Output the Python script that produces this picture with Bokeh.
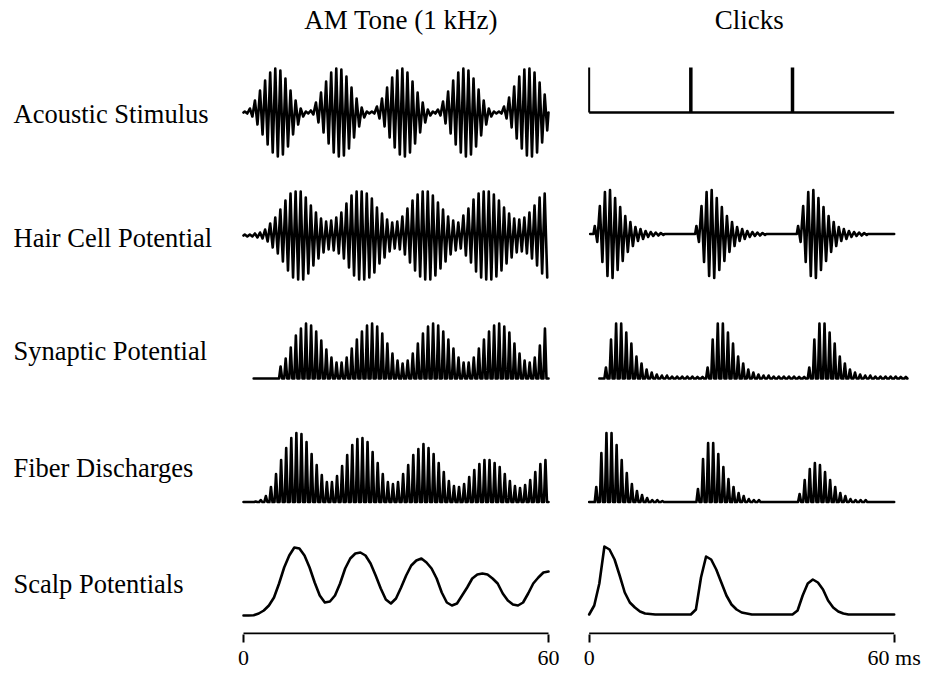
from bokeh.plotting import figure
from bokeh.models import Range1d, LinearAxis, FixedTicker
from bokeh.embed import file_html
from bokeh.resources import INLINE
from bokeh.core.properties import value

# ---------------- data (time in ms, amplitude in a.u.) ----------------
COLUMN_TITLES = ["AM Tone (1 kHz)", "Clicks"]
ROW_LABELS = ["Acoustic Stimulus", "Hair Cell Potential", "Synaptic Potential",
              "Fiber Discharges", "Scalp Potentials"]
AXIS_MS = [0, 60]
AXIS_LABELS = ["0", "60", "0", "60 ms"]

# AM tone: peak amplitude of each 1-ms carrier cycle (cycles 0..59)
AM_STIM = [1, 4, 12, 22, 32, 40, 44, 42, 34, 22, 12, 4, 1,
           2, 10, 20, 31, 40, 44, 43, 36, 25, 14, 5, 1,
           1, 6, 14, 25, 35, 42, 44, 40, 31, 20, 10, 3, 1,
           3, 11, 21, 32, 40, 44, 42, 34, 23, 12, 4, 1,
           1, 6, 15, 26, 36, 43, 44, 40, 30, 18]
AM_HAIR = [1, 1, 2, 3,
           6, 12, 18, 26, 35, 42, 44, 44, 38, 30,
           23, 17, 14, 15, 18, 23, 32, 40, 44, 44,
           42, 37, 28, 22, 16, 13, 14, 19, 27, 35,
           41, 44, 44, 40, 33, 26, 19, 15, 13, 20,
           27, 36, 42, 44, 44, 41, 35, 28, 22, 17,
           16, 18, 23, 30, 38, 42]
AM_SYN_FIRST_CYCLE = 7
AM_SYN = [12, 20, 31, 43, 50, 55, 53, 47, 38, 29,
          21, 16, 16, 21, 30, 39, 47, 53, 55, 52,
          45, 35, 25, 18, 15, 18, 25, 35, 45, 52,
          55, 53, 47, 39, 30, 21, 16, 16, 21, 30,
          39, 47, 53, 55, 52, 46, 35, 25, 18, 16,
          21, 33, 50]
AM_FIBER = [0, 0, 0.5,
            2, 6, 15, 28, 42, 54, 64, 69, 68, 60,
            48, 37, 27, 20, 20, 26, 36, 47, 57, 63,
            64, 60, 50, 39, 28, 20, 18, 20, 28, 37,
            47, 53, 58, 54, 48, 39, 30, 21, 16, 15,
            18, 25, 32, 38, 42, 42, 39, 35, 28, 21,
            16, 14, 17, 22, 30, 38, 42]
AM_SCALP = [0, 0, 0.3, 2, 5, 10, 18, 32, 48, 60, 68,
            67, 60, 48, 33, 20, 13, 14, 20, 32, 47,
            57, 62, 63, 60, 52, 40, 27, 16, 12, 17,
            28, 40, 50, 55, 57, 53, 47, 37, 23, 13,
            10, 12, 20, 28, 37, 41, 42, 41, 37, 32,
            22, 15, 11, 10, 13, 22, 32, 38, 43, 44]

# Clicks
CLICK_TIMES = [0, 20, 40]
CLICK_HEIGHT = 45
HAIR_LATENCY = 1.1
HAIR_BURST = [8, 28, 42, 44, 36, 27, 18, 12, 7, 5, 3, 2, 1.5, 1]
SYN_LATENCY = 3.3
SYN_BURST = [11, 39, 55, 55, 46, 35, 22, 15, 9, 6, 4, 3, 3, 2, 2, 2, 2, 2, 1.5, 1.5]
FIBER_LATENCY = 1.4
FIBER_BURST_1 = [15, 49, 69, 69, 57, 42, 29, 18, 11, 7, 4, 2, 2, 1]
FIBER_BURST_2 = [13, 43, 59, 59, 48, 35, 23, 15, 9, 6, 3, 2, 2]
FIBER_BURST_3 = [8, 22, 33, 39, 37, 30, 22, 15, 9, 6, 3, 2, 2, 2]
CLICK_SCALP = [0, 9, 31, 68, 65, 55, 39, 22, 12, 7, 3,
               1, 0.5, 0, 0, 0, 0, 0, 0, 0, 0,
               5, 37, 58, 55, 45, 32, 19, 10, 5, 2,
               1, 0, 0, 0, 0, 0, 0, 0, 0, 0,
               4, 19, 31, 35, 32, 25, 14, 7, 3, 1,
               0, 0, 0, 0, 0, 0, 0, 0, 0, 0]

# ---------------- layout (styles / positions) ----------------
W, H = 929, 681
PX_PER_MS = 305 / 60.0
ZERO_PX = 243
CLICK_X0 = 68            # x offset (ms units) of the clicks column
X_START = -ZERO_PX / PX_PER_MS
X_END = (W - ZERO_PX) / PX_PER_MS
BOTTOM = 47


def y_of(px):            # vertical placement helper (pixel row -> data units)
    return 633 - px


BASE_STIM = y_of(112)
BASE_HAIR_AM = y_of(235)
BASE_HAIR_CL = y_of(233.5)
BASE_SYN = y_of(378)
BASE_FIBER = y_of(501.5)
BASE_SCALP_AM = y_of(615)
BASE_SCALP_CL = y_of(614)

FONT = value("Liberation Serif")
LW = 2.6

p = figure(width=W, height=H, x_range=Range1d(X_START, X_END), y_range=Range1d(-1, 633),
           x_axis_type=None, y_axis_type=None, toolbar_location=None,
           output_backend="svg", min_border_left=0, min_border_right=0,
           min_border_top=0, min_border_bottom=BOTTOM, outline_line_color=None,
           background_fill_color="white", border_fill_color="white")
p.title_location = None


def symmetric_wave(start, end, bursts, base):
    xs, ys = [start], [base]
    for burst in bursts:
        xs.append(burst[0][0] - 0.25)
        ys.append(base)
        for tp, a in burst:
            xs += [tp, tp + 0.5]
            ys += [base + a, base - a]
        xs.append(burst[-1][0] + 0.75)
        ys.append(base)
    xs.append(end)
    ys.append(base)
    return xs, ys


def pulse_wave(start, end, bursts, base, half=0.3):
    xs, ys = [start], [base]
    for burst in bursts:
        for tp, a in burst:
            xs += [tp - half, tp, tp + half]
            ys += [base, base + a, base]
    xs.append(end)
    ys.append(base)
    return xs, ys


def line(xs, ys, w=LW):
    p.line(xs, ys, line_color="black", line_width=w, line_join="round", line_cap="round")


# ---- AM column ----
xs, ys = symmetric_wave(0, 60, [[(k + 0.25, a) for k, a in enumerate(AM_STIM)]], BASE_STIM)
line(xs, ys)
xs, ys = symmetric_wave(0, 60, [[(k + 0.25, a) for k, a in enumerate(AM_HAIR)]], BASE_HAIR_AM)
xs, ys = xs[:-2], ys[:-2]
line(xs, ys)
xs, ys = pulse_wave(2, 60, [[(AM_SYN_FIRST_CYCLE + k + 0.3, a) for k, a in enumerate(AM_SYN)]], BASE_SYN)
line(xs, ys)
xs, ys = pulse_wave(0, 60, [[(k + 0.4, a) for k, a in enumerate(AM_FIBER)]], BASE_FIBER)
line(xs, ys)
line(list(range(len(AM_SCALP))), [BASE_SCALP_AM + v for v in AM_SCALP])

# ---- Clicks column ----
p.line([CLICK_X0, CLICK_X0 + 60], [BASE_STIM, BASE_STIM], line_color="black", line_width=LW)
p.segment(x0=[CLICK_X0 + c for c in CLICK_TIMES], x1=[CLICK_X0 + c for c in CLICK_TIMES],
          y0=[BASE_STIM] * len(CLICK_TIMES), y1=[BASE_STIM + CLICK_HEIGHT] * len(CLICK_TIMES),
          line_color="black", line_width=[2, 3.5, 3.5])

bursts = [[(CLICK_X0 + c + HAIR_LATENCY + k, a) for k, a in enumerate(HAIR_BURST)] for c in CLICK_TIMES]
xs, ys = symmetric_wave(CLICK_X0 + 0.2, CLICK_X0 + 60, bursts, BASE_HAIR_CL)
line(xs, ys)

bursts = [[(CLICK_X0 + c + SYN_LATENCY + k, a) for k, a in enumerate(SYN_BURST)] for c in CLICK_TIMES]
xs, ys = pulse_wave(CLICK_X0 + 2, CLICK_X0 + 62.5, bursts, BASE_SYN)
line(xs, ys)

bursts = [[(CLICK_X0 + c + FIBER_LATENCY + k, a) for k, a in enumerate(b)]
          for c, b in zip(CLICK_TIMES, [FIBER_BURST_1, FIBER_BURST_2, FIBER_BURST_3])]
xs, ys = pulse_wave(CLICK_X0, CLICK_X0 + 60, bursts, BASE_FIBER)
line(xs, ys)

line([CLICK_X0 + t for t in range(len(CLICK_SCALP))], [BASE_SCALP_CL + v for v in CLICK_SCALP])

# ---- time brackets + axis ----
ticks = [AXIS_MS[0], AXIS_MS[1], CLICK_X0 + AXIS_MS[0], CLICK_X0 + AXIS_MS[1]]
p.segment(x0=[ticks[0], ticks[2]], x1=[ticks[1], ticks[3]], y0=[0, 0], y1=[0, 0],
          line_color="black", line_width=2)
ax = LinearAxis(ticker=FixedTicker(ticks=ticks),
                major_label_overrides={t: lab for t, lab in zip(ticks, AXIS_LABELS)})
ax.axis_line_color = None
ax.major_tick_line_color = "black"
ax.major_tick_line_width = 2
ax.major_tick_in = 0
ax.major_tick_out = 8
ax.minor_tick_line_color = None
ax.major_label_standoff = 2
ax.major_label_text_font = "Liberation Serif"
ax.major_label_text_font_size = "22px"
ax.major_label_text_color = "black"
p.add_layout(ax, "below")

# ---- texts ----
p.text(x=[(13 - ZERO_PX) / PX_PER_MS] * len(ROW_LABELS),
       y=[y_of(113), y_of(237), y_of(350), y_of(467), y_of(583)],
       text=ROW_LABELS, text_font=FONT, text_font_size=value("26.5px"),
       text_align="left", text_baseline="middle", text_color="black")
p.text(x=[31, CLICK_X0 + 31.5], y=[y_of(19), y_of(19)], text=COLUMN_TITLES,
       text_font=FONT, text_font_size=value("27px"),
       text_align="center", text_baseline="middle", text_color="black")

open("out.html", "w").write(file_html(p, INLINE))
